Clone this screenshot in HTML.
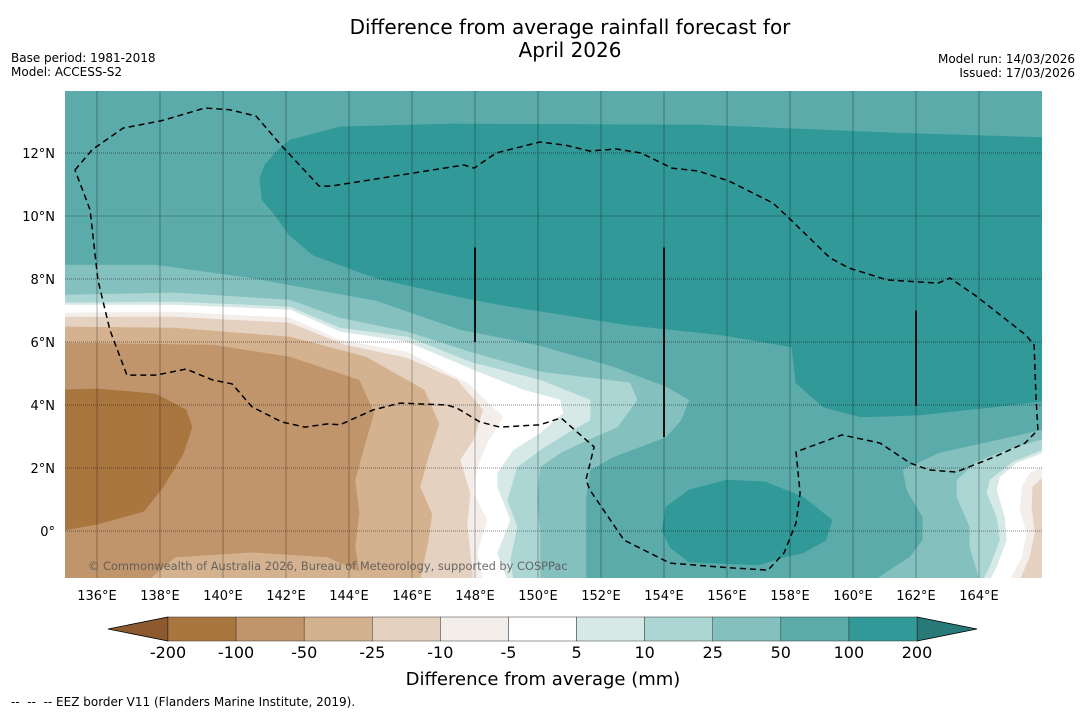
<!DOCTYPE html>
<html><head><meta charset="utf-8"><style>
html,body{margin:0;padding:0;background:#fff;}
body{width:1085px;height:713px;overflow:hidden;font-family:"Liberation Sans","DejaVu Sans",sans-serif;}
svg text{font-family:"DejaVu Sans","Liberation Sans",sans-serif;}
</style></head><body>
<svg id="chart" width="1085" height="713" xmlns="http://www.w3.org/2000/svg">
<text x="570" y="34" font-size="20" text-anchor="middle" fill="#000">Difference from average rainfall forecast for</text>
<text x="570" y="57" font-size="20" text-anchor="middle" fill="#000">April 2026</text>
<text x="11" y="62" font-size="12">Base period: 1981-2018</text>
<text x="11" y="76" font-size="12">Model: ACCESS-S2</text>
<text x="1075" y="63" font-size="12" text-anchor="end">Model run: 14/03/2026</text>
<text x="1075" y="77" font-size="12" text-anchor="end">Issued: 17/03/2026</text>
<defs><clipPath id="plotclip"><rect x="65" y="91" width="977" height="487"/></clipPath></defs>
<g id="map" clip-path="url(#plotclip)"></g>
<g id="grid"></g>
<g id="axes"></g>
<text x="88" y="570" font-size="11.4" fill="#555" fill-opacity="0.85">© Commonwealth of Australia 2026, Bureau of Meteorology, supported by COSPPac</text>
<g id="colorbar"></g>
<text x="543" y="685" font-size="18" text-anchor="middle">Difference from average (mm)</text>
<text x="11" y="706" font-size="12" xml:space="preserve">--  --  -- EEZ border V11 (Flanders Marine Institute, 2019).</text>
</svg>
<script>
// ---- data ----
const levelLabels = ["-200","-100","-50","-25","-10","-5","5","10","25","50","100","200"];
const levelColors = ["#8c5a2e","#a97640","#c0956b","#d4b290","#e5d1bf","#f3eeea","#ffffff","#d6e9e7","#acd6d4","#84c0bd","#5aabaa","#319997","#287a78"];
const lonTicks = [136,138,140,142,144,146,148,150,152,154,156,158,160,162,164];
const latTicks = [0,2,4,6,8,10,12];
// contour regions: color index, side ("L" left-anchored, "R" right-anchored, "C" closed), boundary [lon,lat]
const regionColorIdx = [11, 11, 9, 8, 7, 6, 5, 4, 3, 2, 1, 9, 8, 7, 6, 5, 4];
const regionSide = ["C","C","L","L","L","L","L","L","L","L","C","R","R","R","R","R","R"];
const regionShapes = [
 [[141.65,10.03],[141.24,10.51],[141.17,11.21],[141.33,11.62],[141.7,12.05],[142.13,12.41],[143.71,12.83],[147.21,12.92],[155.14,12.89],[161.49,12.63],[166.3,12.48],[166.3,4.16],[164.48,3.94],[162.06,3.68],[160.25,3.62],[159.05,3.94],[158.19,4.70],[158.06,5.84],[155.87,6.22],[152.86,6.54],[148.86,7.17],[147.52,7.43],[144.86,8.03],[142.86,8.76],[142.1,9.4]],
 [[154.06,0.76],[154.79,1.30],[155.99,1.62],[157.21,1.56],[158.41,1.08],[159.33,0.35],[159.14,-0.29],[158.41,-0.70],[157.81,-0.83],[156.98,-1.08],[154.79,-0.98],[154.19,-0.51],[153.94,0.03]],
 [[134.8,8.44],[137.84,8.44],[140.83,8.03],[144.86,7.30],[147.52,6.38],[149.94,5.90],[152.38,5.21],[154.06,4.57],[154.79,4.16],[154.54,3.52],[154.06,2.98],[152.38,2.35],[151.65,1.94],[151.52,1.08],[151.52,-1.56]],
 [[134.8,7.49],[138.48,7.56],[142.13,7.33],[143.71,6.76],[145.84,6.32],[147.94,5.65],[150.06,5.05],[152.92,4.70],[153.14,4.16],[152.51,3.30],[151.56,2.89],[150.70,2.48],[150.06,2.03],[149.97,0.98],[150.06,-0.06],[150.06,-1.56]],
 [[134.8,7.24],[138.48,7.27],[142.13,7.11],[143.71,6.44],[145.84,6.16],[147.94,5.33],[150.06,4.79],[151.65,4.16],[151.65,3.52],[150.92,3.11],[150.06,2.57],[149.33,2.03],[149.02,0.98],[149.33,0.13],[149.11,-0.92],[149.21,-1.56]],
 [[134.8,7.17],[138.48,7.17],[142.13,7.02],[143.71,6.32],[145.84,6.00],[147.94,5.11],[149.52,4.48],[150.70,4.16],[150.79,3.75],[150.06,3.11],[149.21,2.57],[148.70,1.84],[148.70,1.40],[149.11,0.35],[148.70,-0.70],[149.02,-1.56]],
 [[134.8,6.92],[138.48,6.95],[142.13,6.76],[143.71,6.06],[145.84,5.68],[147.75,4.70],[148.89,3.62],[148.38,2.79],[148.06,2.03],[147.94,1.21],[148.38,0.35],[148.06,-0.70],[148.25,-1.56]],
 [[134.8,6.79],[138.48,6.79],[142.13,6.60],[143.87,5.90],[145.84,5.49],[147.43,4.79],[148.25,3.84],[147.94,2.89],[147.52,2.25],[147.84,1.21],[147.75,0.19],[147.94,-1.56]],
 [[134.8,6.48],[138.48,6.44],[142.13,6.16],[144.54,5.52],[146.38,4.48],[146.86,3.40],[146.51,2.35],[146.25,1.40],[146.63,0.54],[146.51,-0.32],[146.25,-1.56]],
 [[134.8,5.97],[139.68,5.90],[142.13,5.52],[144.32,4.79],[144.79,3.75],[144.54,2.89],[144.19,1.62],[144.32,0.57],[144.19,-0.51],[144.32,-1.27],[143.33,-0.83],[140.92,-0.67],[138.48,-0.83],[137.62,-1.56]],
 [[134.8,4.48],[136.03,4.51],[137.87,4.35],[138.83,3.84],[139.02,3.30],[138.73,2.44],[138.10,1.40],[137.49,0.63],[136.03,0.22],[134.8,0.0]],
 [[166.3,3.27],[164.35,2.83],[162.76,2.48],[161.59,1.94],[161.71,1.30],[162.22,0.44],[162.22,-0.29],[161.81,-0.83],[161.17,-1.24],[160.70,-1.56]],
 [[166.3,2.98],[164.89,2.57],[163.94,2.19],[163.30,1.62],[163.30,1.08],[163.71,0.13],[163.71,-0.51],[164.03,-1.56]],
 [[166.3,2.67],[165.08,2.19],[164.35,1.62],[164.25,1.21],[164.57,0.44],[164.67,-0.29],[164.35,-1.14],[164.13,-1.56]],
 [[166.3,2.57],[165.21,2.16],[164.67,1.71],[164.57,1.30],[164.83,0.44],[164.89,-0.29],[164.57,-1.14],[164.35,-1.56]],
 [[166.3,2.16],[165.62,1.84],[165.37,1.40],[165.30,0.67],[165.52,-0.06],[165.37,-0.83],[164.98,-1.56]],
 [[166.3,1.94],[165.71,1.40],[165.68,0.76],[165.78,-0.06],[165.62,-0.83],[165.30,-1.56]]
];
const eezBorder = [[135.30,11.46],[135.84,12.10],[136.83,12.79],[138.03,13.02],[139.43,13.43],[140.22,13.37],[141.05,13.17],[141.84,12.25],[143.05,10.95],[143.43,10.95],[147.65,11.62],[147.97,11.52],[148.67,12.00],[150.06,12.35],[150.86,12.25],[151.65,12.06],[152.48,12.13],[153.27,12.00],[154.25,11.52],[155.08,11.43],[156.06,11.11],[157.46,10.41],[157.87,10.03],[159.27,8.67],[159.87,8.35],[161.08,7.97],[162.70,7.87],[163.08,8.03],[163.87,7.49],[165.49,6.22],[165.75,5.90],[165.81,4.25],[165.87,3.21],[165.46,2.79],[164.48,2.35],[163.27,1.87],[162.41,1.94],[161.81,2.16],[160.86,2.79],[159.65,3.05],[158.19,2.51],[158.32,1.21],[158.19,0.25],[157.81,-0.70],[157.30,-1.24],[156.13,-1.17],[154.19,-1.02],[152.73,-0.29],[151.65,1.30],[151.52,1.62],[151.78,2.67],[150.73,3.59],[150.06,3.37],[148.79,3.30],[148.16,3.46],[147.43,3.90],[147.11,4.00],[145.62,4.06],[144.76,3.84],[143.71,3.37],[143.33,3.40],[142.60,3.30],[141.87,3.46],[140.92,3.94],[140.29,4.67],[139.68,4.79],[138.83,5.14],[137.87,4.95],[136.95,4.95],[136.41,6.38],[136.03,7.97],[135.78,10.19]];
const markerLon = [148,154,162];
const markerLatTop = [9,9,7];
const markerLatBottom = [6,2.98,3.97];

// ---- axes ----
const NS="http://www.w3.org/2000/svg";
const X0=65.5, LON0=135, PX_PER_DEG=31.5, Y_EQ=531;
function xs(lon){return X0+(lon-LON0)*PX_PER_DEG;}
function ys(lat){return Y_EQ-lat*PX_PER_DEG;}
function mk(tag,attrs,parent){const e=document.createElementNS(NS,tag);for(const k in attrs)e.setAttribute(k,attrs[k]);parent.appendChild(e);return e;}
const map=document.getElementById('map');
const bg=mk('rect',{x:60,y:85,width:990,height:500,fill:levelColors[10]},map);


regionShapes.forEach((pts,i)=>{
  let p=pts.slice();
  const side=regionSide[i];
  if(side==="L"){const last=p[p.length-1];p.push([last[0],-2.5]);p.push([134.5,-2.5]);}
  if(side==="R"){const last=p[p.length-1];p.push([last[0],-2.5]);p.push([166.5,-2.5]);}
  const d='M'+p.map(q=>xs(q[0]).toFixed(1)+','+ys(q[1]).toFixed(1)).join('L')+'Z';
  const el=mk('path',{d:d,fill:levelColors[regionColorIdx[i]],stroke:levelColors[regionColorIdx[i]],'stroke-width':0.6,'stroke-linejoin':'round'},map);
  
  
});
const eez=mk('path',{d:'M'+eezBorder.map(q=>xs(q[0]).toFixed(1)+','+ys(q[1]).toFixed(1)).join('L')+'Z',fill:'none',stroke:'#000','stroke-width':1.5,'stroke-dasharray':'6,4'},map);


markerLon.forEach((lon,i)=>{
  const l=mk('line',{x1:xs(lon),x2:xs(lon),y1:ys(markerLatTop[i]),y2:ys(markerLatBottom[i]),stroke:'#111','stroke-width':2},map);
  
  
});
const grid=document.getElementById('grid');
lonTicks.forEach(lon=>{
  const g=mk('line',{x1:xs(lon),x2:xs(lon),y1:91,y2:578,stroke:'#000','stroke-opacity':0.3,'stroke-width':1},grid);
  
  
});
latTicks.forEach(lat=>{
  const g=mk('line',{x1:65,x2:1042,y1:ys(lat),y2:ys(lat),stroke:'#000','stroke-opacity':0.45,'stroke-width':1,'stroke-dasharray':'1,1'},grid);
  
  
});
const axes=document.getElementById('axes');
lonTicks.forEach(lon=>{
  const t=mk('text',{x:xs(lon),y:600,'font-size':13,'text-anchor':'middle'},axes);
  t.textContent=lon+'°E';
  
  
});
latTicks.forEach(lat=>{
  const t=mk('text',{x:55,y:ys(lat)+5,'font-size':13,'text-anchor':'end'},axes);
  t.textContent=lat===0?'0°':lat+'°N';
  
  
});
// ---- colorbar ----
const cb=document.getElementById('colorbar');
const CB_X0=168, CB_X1=917, CB_Y=617, CB_H=24;
const segW=(CB_X1-CB_X0)/(levelLabels.length-1);
const lt=mk('polygon',{points:`108,${CB_Y+CB_H/2} ${CB_X0},${CB_Y} ${CB_X0},${CB_Y+CB_H}`,fill:levelColors[0],stroke:'#000','stroke-width':0.8},cb);


const rt=mk('polygon',{points:`977,${CB_Y+CB_H/2} ${CB_X1},${CB_Y} ${CB_X1},${CB_Y+CB_H}`,fill:levelColors[levelColors.length-1],stroke:'#000','stroke-width':0.8},cb);


for(let i=0;i<levelLabels.length-1;i++){
  const r=mk('rect',{x:CB_X0+i*segW,y:CB_Y,width:segW,height:CB_H,fill:levelColors[i+1],stroke:'#333','stroke-width':0.5},cb);
  
  
}
levelLabels.forEach((lab,i)=>{
  const t=mk('text',{x:CB_X0+i*segW,y:658,'font-size':16,'text-anchor':'middle'},cb);
  t.textContent=lab;
  
  
});
</script>
</body></html>
